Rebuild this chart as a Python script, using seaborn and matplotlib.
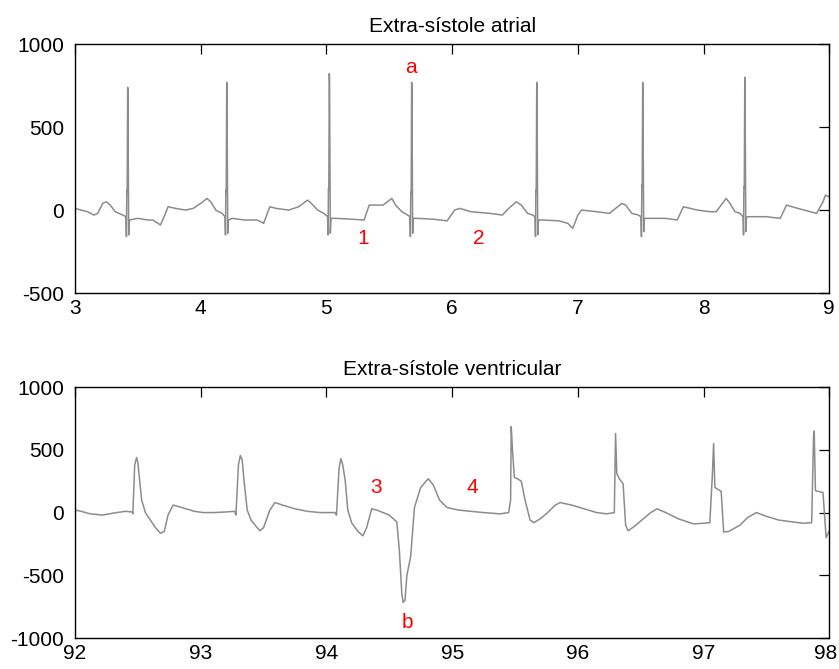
import matplotlib
matplotlib.use("Agg")
import matplotlib.pyplot as plt
import matplotlib.transforms as mtransforms
import seaborn as sns
import pandas as pd

# Top trace: atrial extrasystole (time in s, amplitude)
ATRIAL_T = [
    3.00, 3.05, 3.10, 3.15, 3.18, 3.22, 3.25, 3.28, 3.32, 3.38,
    3.405, 3.409, 3.412, 3.415, 3.419, 3.421, 3.427, 3.433,
    3.50, 3.58, 3.62, 3.68, 3.72, 3.74, 3.80, 3.88, 3.94, 4.00, 4.05, 4.08, 4.12, 4.17,
    4.193, 4.197, 4.200, 4.203, 4.207, 4.209, 4.215, 4.221,
    4.25, 4.35, 4.45, 4.50, 4.55, 4.60, 4.70, 4.78, 4.85, 4.88, 4.93, 4.98,
    5.009, 5.013, 5.016, 5.019, 5.023, 5.025, 5.031, 5.037,
    5.08, 5.20, 5.30, 5.34, 5.45, 5.52, 5.55, 5.60, 5.645,
    5.664, 5.668, 5.671, 5.674, 5.678, 5.680, 5.686, 5.692,
    5.72, 5.85, 5.96, 6.02, 6.06, 6.15, 6.30, 6.40, 6.45, 6.51, 6.55, 6.60, 6.64,
    6.659, 6.663, 6.666, 6.669, 6.673, 6.675, 6.681, 6.687,
    6.72, 6.85, 6.92, 6.96, 7.00, 7.03, 7.15, 7.25, 7.30, 7.35, 7.38, 7.43, 7.48,
    7.502, 7.506, 7.509, 7.512, 7.516, 7.518, 7.524, 7.530,
    7.56, 7.70, 7.79, 7.84, 7.95, 8.05, 8.10, 8.15, 8.18, 8.21, 8.25, 8.29,
    8.314, 8.318, 8.321, 8.324, 8.328, 8.330, 8.336, 8.342,
    8.38, 8.50, 8.61, 8.66, 8.75, 8.85, 8.90, 8.95, 8.97, 9.00,
]
ATRIAL_V = [
    10, 0, -10, -30, -20, 40, 50, 30, -10, -30,
    -40, -160, 120, 110, 740, 710, -150, -60,
    -50, -60, -60, -90, -20, 20, 10, 0, 10, 40, 70, 50, 0, -20,
    -40, -150, 120, 110, 770, 720, -140, -60,
    -50, -60, -60, -80, 20, 10, 0, 20, 60, 40, 0, -20,
    -40, -150, 130, 120, 823, 760, -140, -50,
    -50, -55, -60, 30, 30, 70, 30, -10, -30,
    -40, -160, 110, 100, 770, 730, -140, -50,
    -50, -55, -65, 0, 10, -10, -20, -30, 10, 50, 30, -20, -30,
    -40, -160, 120, 110, 770, 720, -150, -60,
    -60, -65, -80, -110, -30, 0, -10, -20, 10, 40, 30, -20, -30,
    -40, -160, 150, 140, 770, 600, -130, -50,
    -50, -50, -60, 20, 0, -10, -10, 40, 70, 40, -10, -20,
    -40, -150, 140, 130, 800, 760, -130, -40,
    -40, -40, -50, 30, 10, -10, -20, 50, 90, 80,
]

# Bottom trace: ventricular extrasystole
VENTRIC_T = [
    92.00, 92.05, 92.12, 92.22, 92.30, 92.40, 92.455, 92.46, 92.475, 92.49, 92.50,
    92.515, 92.53, 92.56, 92.60, 92.64, 92.68, 92.71, 92.74, 92.78, 92.85, 92.95,
    93.02, 93.10, 93.20, 93.27, 93.28, 93.30, 93.315, 93.33, 93.345, 93.37, 93.40,
    93.47, 93.50, 93.55, 93.59, 93.65, 93.75, 93.85, 93.95, 94.07, 94.08, 94.10,
    94.115, 94.13, 94.15, 94.17, 94.20, 94.25, 94.29, 94.32, 94.36, 94.40, 94.50,
    94.56, 94.58, 94.60, 94.61, 94.625, 94.64, 94.67, 94.70, 94.75, 94.81, 94.85,
    94.90, 94.96, 95.05, 95.15, 95.25, 95.38, 95.45, 95.465, 95.47, 95.48, 95.495,
    95.52, 95.55, 95.58, 95.62, 95.65, 95.70, 95.76, 95.82, 95.86, 95.95, 96.05,
    96.15, 96.23, 96.29, 96.30, 96.31, 96.33, 96.36, 96.38, 96.40, 96.45, 96.52,
    96.58, 96.63, 96.70, 96.80, 96.92, 97.00, 97.05, 97.07, 97.08, 97.09, 97.14,
    97.16, 97.20, 97.29, 97.35, 97.42, 97.50, 97.60, 97.79, 97.86, 97.875, 97.88,
    97.89, 97.95, 97.975, 98.00,
]
VENTRIC_V = [
    20, 10, -10, -20, -5, 10, 5, -10, 380, 440, 400,
    250, 100, 0, -60, -120, -165, -150, -20, 60, 40, 10,
    0, 0, 5, 10, -20, 380, 455, 420, 250, 20, -60,
    -145, -120, 20, 80, 60, 30, 10, 0, 0, -20, 350,
    430, 380, 250, 20, -80, -150, -185, -120, 30, 20, -20,
    -75, -300, -650, -715, -700, -500, -350, 40, 200, 270, 220,
    100, 40, 20, 10, 0, -10, 0, 100, 685, 500, 280,
    270, 250, 100, -60, -80, -50, 0, 60, 80, 60, 30,
    0, -10, 0, 630, 310, 270, 230, -100, -145, -110, -50,
    0, 30, 0, -50, -90, -85, -80, 300, 550, 200, 170,
    -155, -150, -100, -40, 0, -30, -60, -85, -80, 600, 650,
    175, 160, -200, -145,
]

# Red annotations (label, x, y)
ATRIAL_LABELS = ["a", "1", "2"]
ATRIAL_LABEL_X = [5.67, 5.29, 6.21]
ATRIAL_LABEL_Y = [860, -170, -170]
VENTRIC_LABELS = ["3", "4", "b"]
VENTRIC_LABEL_X = [94.395, 95.164, 94.644]
VENTRIC_LABEL_Y = [202, 202, -874]

TRACE_COLOR = "#8c8c8c"
FONT = 15


def style_axes(ax, title):
    ax.set_title(title, fontsize=FONT, pad=9, color="black")
    ax.tick_params(direction="in", length=7, width=0.9, top=True, right=True,
                   labelsize=FONT, colors="black")
    ax.tick_params(axis="y", pad=8)
    ax.tick_params(axis="x", pad=4)
    for s in ax.spines.values():
        s.set_visible(True)
        s.set_color("black")
        s.set_linewidth(1.0)
    ax.set_xlabel("")
    ax.set_ylabel("")


if __name__ == "__main__":
    sns.set_theme(style="white")
    plt.rcParams["font.family"] = ["Liberation Sans", "DejaVu Sans"]
    plt.rcParams["axes.unicode_minus"] = False

    top = pd.DataFrame({"t": ATRIAL_T, "v": ATRIAL_V})
    bot = pd.DataFrame({"t": VENTRIC_T, "v": VENTRIC_V})

    fig = plt.figure(figsize=(8.39, 6.69), dpi=100)
    ax1 = fig.add_axes([0.0894, 0.562, 0.899, 0.372])
    ax2 = fig.add_axes([0.0894, 0.0463, 0.899, 0.375])

    sns.lineplot(data=top, x="t", y="v", ax=ax1, color=TRACE_COLOR,
                 linewidth=1.1, estimator=None, sort=False)
    ax1.set_xlim(3, 9)
    ax1.set_ylim(-500, 1000)
    ax1.set_xticks(range(3, 10))
    ax1.set_yticks([-500, 0, 500, 1000])
    style_axes(ax1, "Extra-sístole atrial")
    for lab, x, y in zip(ATRIAL_LABELS, ATRIAL_LABEL_X, ATRIAL_LABEL_Y):
        ax1.text(x, y, lab, color="red", fontsize=FONT, ha="center", va="center")

    sns.lineplot(data=bot, x="t", y="v", ax=ax2, color=TRACE_COLOR,
                 linewidth=1.1, estimator=None, sort=False)
    ax2.set_xlim(92, 98)
    ax2.set_ylim(-1000, 1000)
    ax2.set_xticks(range(92, 99))
    ax2.set_yticks([-1000, -500, 0, 500, 1000])
    style_axes(ax2, "Extra-sístole ventricular")
    for lab, x, y in zip(VENTRIC_LABELS, VENTRIC_LABEL_X, VENTRIC_LABEL_Y):
        ax2.text(x, y, lab, color="red", fontsize=FONT, ha="center", va="center")

    # keep the last bottom tick label inside the canvas
    fig.canvas.draw()
    last = ax2.get_xticklabels()[-1]
    shift = mtransforms.ScaledTranslation(-4 / 100, 0, fig.dpi_scale_trans)
    last.set_transform(last.get_transform() + shift)

    fig.savefig("out.png", dpi=100)
